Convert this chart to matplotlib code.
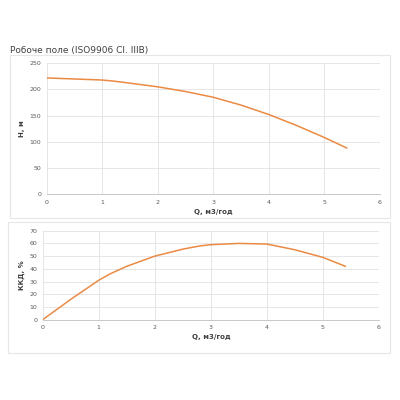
import matplotlib.pyplot as plt
from matplotlib.patches import Rectangle

# head curve
q_head = [0, 0.5, 1.0, 1.2, 1.5, 2.0, 2.5, 3.0, 3.5, 4.0, 4.5, 5.0, 5.4]
head = [222, 220, 218, 216, 212, 205, 196, 185, 170, 152, 131, 108, 88]

# efficiency curve
q_eff = [0, 0.5, 1.0, 1.2, 1.5, 2.0, 2.5, 2.8, 3.0, 3.5, 4.0, 4.5, 5.0, 5.4]
eff = [0, 16, 31, 36, 42, 50, 55.5, 58, 59, 60, 59.5, 55, 49, 42]

orange = '#EB8A44'
grid_col = '#e2e2e2'
tick_col = '#595959'

W, H = 400, 400
fig = plt.figure(figsize=(4, 4), dpi=100)


def box(x0, y0, x1, y1):
    # pixel coords from top-left -> figure fraction
    return [x0 / W, 1 - y1 / H, (x1 - x0) / W, (y1 - y0) / H]


# outer frames
for (x0, y0, x1, y1) in [(10, 55, 390, 218), (8, 222, 390, 353)]:
    b = box(x0, y0, x1, y1)
    fig.patches.append(Rectangle((b[0], b[1]), b[2], b[3], transform=fig.transFigure,
                                 fill=False, edgecolor='#e6e6e6', linewidth=0.8))

fig.text(10 / W, 1 - 51 / H, 'Робоче поле (ISO9906 Cl. IIIB)', fontsize=6.5,
         color='#404040', va='center', ha='left')


def style(ax, ymax, ystep, ylabel):
    ax.set_xlim(0, 6)
    ax.set_ylim(0, ymax)
    ax.set_xticks(range(0, 7))
    ax.set_yticks(range(0, ymax + 1, ystep))
    ax.grid(True, color=grid_col, linewidth=0.6)
    ax.set_axisbelow(True)
    for s in ['top', 'right', 'left']:
        ax.spines[s].set_visible(False)
    ax.spines['bottom'].set_color('#bfbfbf')
    ax.spines['bottom'].set_linewidth(0.6)
    ax.tick_params(length=0, labelsize=4.5, colors=tick_col, pad=4)
    ax.set_xlabel('Q, м3/год', fontsize=5, fontweight='bold', color='#404040', labelpad=3)
    ax.set_ylabel(ylabel, fontsize=5, fontweight='bold', color='#404040', labelpad=3)


ax1 = fig.add_axes(box(46.7, 63.3, 380, 194))
ax1.plot(q_head, head, color=orange, linewidth=1.1)
style(ax1, 250, 50, 'H, м')

ax2 = fig.add_axes(box(42.7, 230.7, 379, 319.7))
ax2.plot(q_eff, eff, color=orange, linewidth=1.1)
style(ax2, 70, 10, 'ККД, %')

fig.savefig('out.png', dpi=100)
